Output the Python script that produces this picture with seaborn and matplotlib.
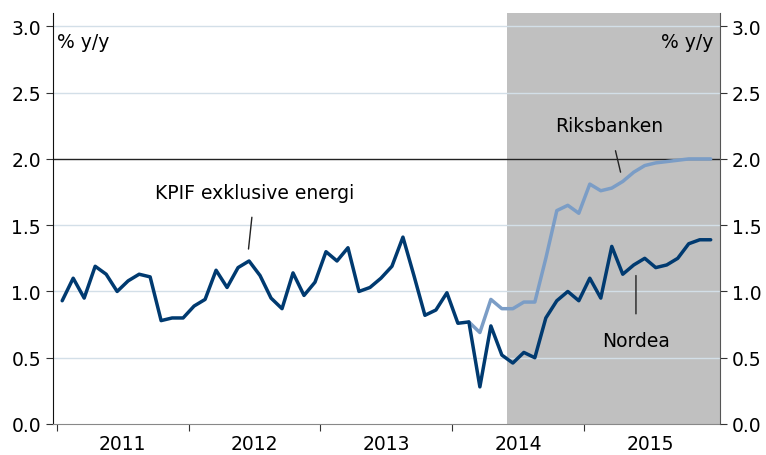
import numpy as np
import pandas as pd
import seaborn as sns
import matplotlib.pyplot as plt
import matplotlib.ticker as ticker

# KPIF exklusive energi, monthly Jan 2011 - Dec 2015 (Nordea forecast from mid 2014)
kpif = [0.93, 1.10, 0.95, 1.19, 1.13, 1.00, 1.08, 1.13, 1.11, 0.78, 0.80, 0.80,
        0.89, 0.94, 1.16, 1.03, 1.18, 1.23, 1.12, 0.95, 0.87, 1.14, 0.97, 1.07,
        1.30, 1.23, 1.33, 1.00, 1.03, 1.10, 1.19, 1.41, 1.12, 0.82, 0.86, 0.99,
        0.76, 0.77, 0.28, 0.74, 0.52, 0.46, 0.54, 0.50, 0.80, 0.93, 1.00, 0.93,
        1.10, 0.95, 1.34, 1.13, 1.20, 1.25, 1.18, 1.20, 1.25, 1.36, 1.39, 1.39]
# Riksbanken forecast, Feb 2014 - Dec 2015
riksbank = [0.77, 0.69, 0.94, 0.87, 0.87, 0.92, 0.92, 1.25, 1.61, 1.65, 1.59,
            1.81, 1.76, 1.78, 1.83, 1.90, 1.95, 1.97, 1.98, 1.99, 2.00, 2.00, 2.00]
riksbank_start = 37
forecast_start = 40.5
years = ['2011', '2012', '2013', '2014', '2015']

dark = '#003a70'
light = '#7b9dc6'
fs = 13.5

df_kpif = pd.DataFrame({'month': np.arange(len(kpif)), 'value': kpif})
df_rb = pd.DataFrame({'month': np.arange(riksbank_start, riksbank_start + len(riksbank)),
                      'value': riksbank})

sns.set_style('white')
plt.rcParams['font.family'] = ['DejaVu Sans']
plt.rcParams['text.color'] = 'black'
plt.rcParams['xtick.color'] = 'black'
plt.rcParams['ytick.color'] = 'black'

fig = plt.figure(figsize=(7.66, 4.56), dpi=100)
ax = fig.add_axes([0.069, 0.068, 0.871, 0.901])

ax.axvspan(forecast_start, 60, color='#c0c0c0', zorder=0, lw=0)
for g in [0.5, 1.0, 1.5, 2.5, 3.0]:
    ax.axhline(g, color='#d3dfe8', lw=1, zorder=1)
ax.axhline(2.0, color='#222222', lw=1, zorder=2)

sns.lineplot(data=df_rb, x='month', y='value', color=light, lw=2.5, ax=ax, zorder=3)
sns.lineplot(data=df_kpif, x='month', y='value', color=dark, lw=2.5, ax=ax, zorder=4)

ax.set_xlim(-0.85, 59.85)
ax.set_ylim(0, 3.1)
ax.set_xlabel('')
ax.set_ylabel('')

ax.xaxis.set_major_locator(ticker.FixedLocator([-0.5, 11.5, 23.5, 35.5, 47.5]))
ax.xaxis.set_major_formatter(ticker.NullFormatter())
ax.xaxis.set_minor_locator(ticker.FixedLocator([5.5, 17.5, 29.5, 41.5, 53.5]))
ax.xaxis.set_minor_formatter(ticker.FixedFormatter(years))
ax.tick_params(axis='x', which='major', direction='out', length=5, color='#333333', bottom=True)
ax.tick_params(axis='x', which='minor', length=0, labelsize=fs, pad=7)
ax.yaxis.set_major_locator(ticker.MultipleLocator(0.5))
ax.yaxis.set_major_formatter(ticker.FormatStrFormatter('%.1f'))
ax.tick_params(axis='y', direction='out', length=5, labelsize=fs, left=True, color='#333333')

for s in ['top', 'right']:
    ax.spines[s].set_visible(False)
ax.spines['left'].set_color('#111111')
ax.spines['bottom'].set_color('#888888')

ax2 = ax.twinx()
ax2.set_ylim(0, 3.1)
ax2.yaxis.set_major_locator(ticker.MultipleLocator(0.5))
ax2.yaxis.set_major_formatter(ticker.FormatStrFormatter('%.1f'))
ax2.tick_params(axis='y', direction='out', length=5, labelsize=fs, right=True, color='#333333')
for s in ['top', 'left', 'bottom']:
    ax2.spines[s].set_visible(False)
ax2.spines['right'].set_color('#555555')

ax.text(0.006, 0.955, '% y/y', transform=ax.transAxes, fontsize=fs, va='top', ha='left')
ax.text(0.99, 0.955, '% y/y', transform=ax.transAxes, fontsize=fs, va='top', ha='right')

ax.annotate('KPIF exklusive energi', xy=(16.95, 1.32), xytext=(17.5, 1.75),
            fontsize=fs, ha='center', va='center',
            arrowprops=dict(arrowstyle='-', color='#222222', lw=1, shrinkA=9, shrinkB=0))
ax.annotate('Riksbanken', xy=(50.8, 1.90), xytext=(49.8, 2.25),
            fontsize=fs, ha='center', va='center',
            arrowprops=dict(arrowstyle='-', color='#222222', lw=1, shrinkA=9, shrinkB=0))
ax.annotate('Nordea', xy=(52.2, 1.12), xytext=(52.2, 0.63),
            fontsize=fs, ha='center', va='center',
            arrowprops=dict(arrowstyle='-', color='#222222', lw=1, shrinkA=10, shrinkB=0))

fig.savefig('out.png', dpi=100)
